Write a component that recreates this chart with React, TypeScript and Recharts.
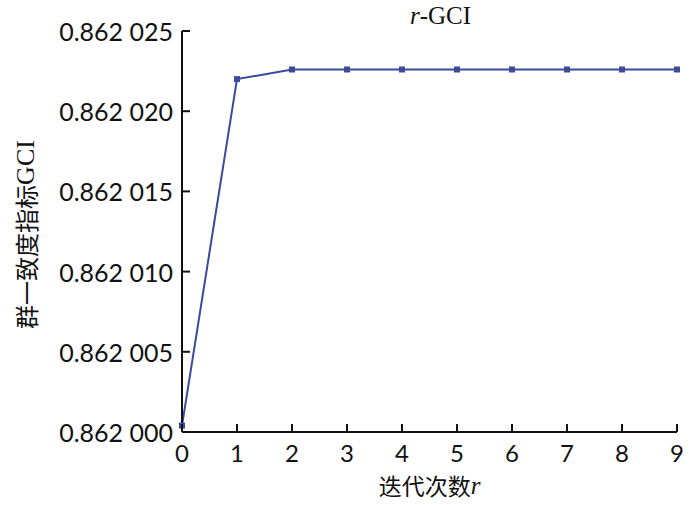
import { Line, LineChart, XAxis, YAxis } from "recharts";

// iteration count r and the group consistency index at each step
const iterations = [0, 1, 2, 3, 4, 5, 6, 7, 8, 9];
const gciValues = [
    0.8620004, 0.862022, 0.8620226, 0.8620226, 0.8620226,
    0.8620226, 0.8620226, 0.8620226, 0.8620226, 0.8620226,
];
const yTicks = [0.862, 0.862005, 0.86201, 0.862015, 0.86202, 0.862025];
const xTicks = [0, 1, 2, 3, 4, 5, 6, 7, 8, 9];

const lineColor = "#3b4a9c";
const tickFont = "Lato, 'Open Sans', sans-serif";
const cjkFont = "'Noto Sans CJK SC', sans-serif";
const serifFont = "'Liberation Serif', 'DejaVu Serif', serif";

const formatGci = (v: number) => {
    const s = v.toFixed(6);
    return s.slice(0, 5) + " " + s.slice(5);
};

function YTick({ x, y, payload }: any) {
    return (
        <g>
            <line x1={x} x2={x + 8} y1={y} y2={y} stroke="#111" strokeWidth={2} />
            <text
                x={x - 9}
                y={y}
                textAnchor="end"
                dominantBaseline="central"
                fontFamily={tickFont}
                fontSize={25}
                fill="#111"
            >
                {formatGci(payload.value)}
            </text>
        </g>
    );
}

function XTick({ x, y, payload }: any) {
    return (
        <g>
            <line x1={x} x2={x} y1={y} y2={y - 8} stroke="#111" strokeWidth={2} />
            <text
                x={x}
                y={y + 20}
                textAnchor="middle"
                dominantBaseline="central"
                fontFamily={tickFont}
                fontSize={24}
                fill="#111"
            >
                {payload.value}
            </text>
        </g>
    );
}

function SquareDot({ cx, cy, index }: any) {
    return <rect key={index} x={cx - 3} y={cy - 3} width={6} height={6} fill={lineColor} />;
}

export default function App() {
    const chartData = iterations.map((r, i) => ({ r, gci: gciValues[i] }));

    return (
        <div style={{ position: "absolute", left: 0, top: 0, width: 700, height: 505, background: "#fff" }}>
            <LineChart
                width={700}
                height={505}
                data={chartData}
                margin={{ top: 31, right: 23, bottom: 0, left: 0 }}
            >
                <XAxis
                    dataKey="r"
                    type="number"
                    domain={[0, 9]}
                    ticks={xTicks}
                    height={73}
                    tickSize={0}
                    tickMargin={0}
                    tickLine={false}
                    axisLine={{ stroke: "#111", strokeWidth: 2 }}
                    tick={<XTick />}
                    label={{
                        content: ({ viewBox }: any) => (
                            <text
                                x={viewBox.x + viewBox.width / 2}
                                y={485}
                                textAnchor="middle"
                                dominantBaseline="central"
                                fontSize={23}
                                fill="#111"
                            >
                                <tspan fontFamily={cjkFont}>迭代次数</tspan>
                                <tspan fontFamily={serifFont} fontStyle="italic" fontSize={25}>r</tspan>
                            </text>
                        ),
                    }}
                />
                <YAxis
                    type="number"
                    domain={[0.862, 0.862025]}
                    ticks={yTicks}
                    width={182}
                    tickSize={0}
                    tickMargin={0}
                    tickLine={false}
                    axisLine={{ stroke: "#111", strokeWidth: 2 }}
                    tick={<YTick />}
                    label={{
                        content: ({ viewBox }: any) => {
                            const cy = viewBox.y + viewBox.height / 2 + 3;
                            return (
                                <text
                                    x={25}
                                    y={cy}
                                    transform={`rotate(-90, 25, ${cy})`}
                                    textAnchor="middle"
                                    dominantBaseline="central"
                                    fontSize={24}
                                    fill="#111"
                                >
                                    <tspan fontFamily={cjkFont}>群一致度指标</tspan>
                                    <tspan fontFamily={serifFont} fontSize={26}>GCI</tspan>
                                </text>
                            );
                        },
                    }}
                />
                <Line
                    dataKey="gci"
                    stroke={lineColor}
                    strokeWidth={2}
                    dot={<SquareDot />}
                    activeDot={false}
                    isAnimationActive={false}
                />
            </LineChart>
            <div
                style={{
                    position: "absolute",
                    left: 410,
                    top: 2,
                    fontFamily: serifFont,
                    fontSize: 25,
                    color: "#111",
                    whiteSpace: "nowrap",
                }}
            >
                <i>r</i>-GCI
            </div>
        </div>
    );
}
